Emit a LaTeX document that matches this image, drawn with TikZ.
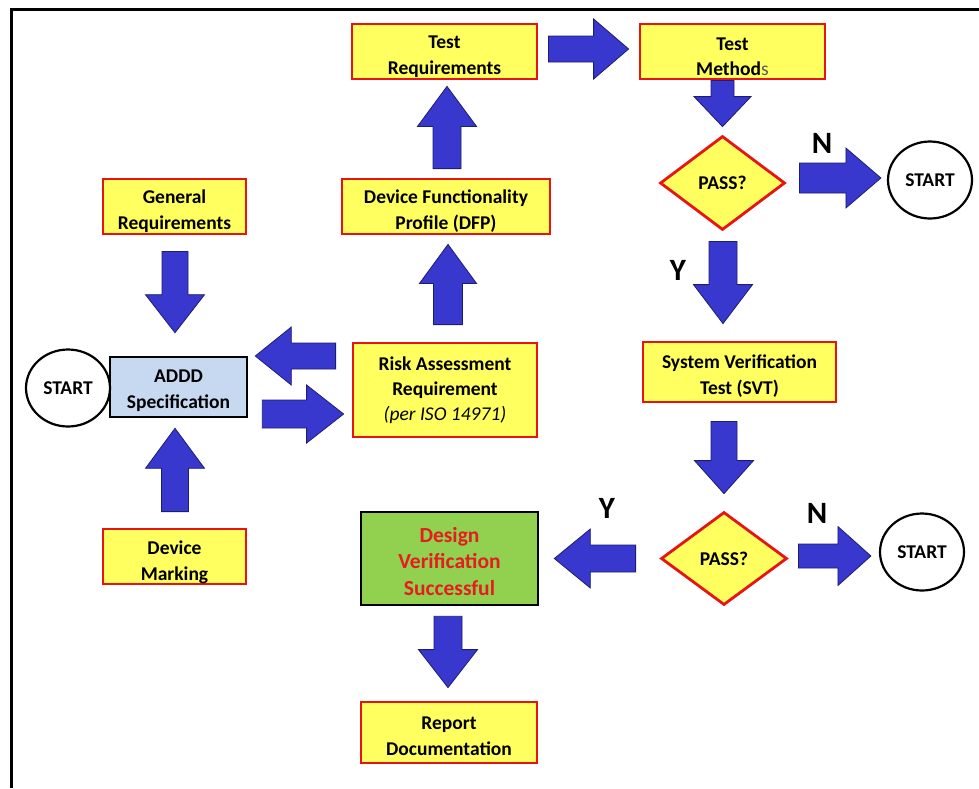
\documentclass[tikz,border=0pt]{standalone}
\usepackage{fontspec}
\setmainfont{Carlito}
\usetikzlibrary{shapes.geometric,calc}
\definecolor{boxyellow}{RGB}{255,255,96}
\definecolor{boxred}{RGB}{232,20,20}
\definecolor{arrowblue}{RGB}{56,56,206}
\definecolor{arrowedge}{RGB}{30,30,110}
\definecolor{specblue}{RGB}{198,217,241}
\definecolor{okgreen}{RGB}{146,208,80}
\definecolor{textred}{RGB}{228,30,30}
\newcommand\txtdrop[1]{\rule{0pt}{#1pt}}
\tikzset{
  txt/.style={font=\bfseries\fontsize{19.5}{25.5}\selectfont, align=center, text=black},
  ybox/.style={txt, draw=boxred, fill=boxyellow, line width=2.8pt, rectangle, inner sep=0pt},
  ydiam/.style={txt, draw=boxred, fill=boxyellow, line width=2.8pt, diamond, aspect=1.33, inner sep=0pt, minimum width=125pt, minimum height=94pt},
  startnode/.style={txt, draw=black, fill=white, line width=2.2pt, ellipse, inner sep=0pt, minimum width=84pt, minimum height=77pt},
  blockarrow/.style={fill=arrowblue, draw=arrowedge, line width=0.8pt, line join=miter},
  yn/.style={font=\bfseries\fontsize{31}{31}\selectfont, text=black, inner sep=0pt},
}
\newcommand\barrow[5]{%
  \coordinate (bA) at (#1); \coordinate (bB) at (#2);
  \coordinate (bH) at ($(bB)!#5pt!(bA)$);
  \path[blockarrow] ($(bA)!#3pt!90:(bB)$) -- ($(bH)!#3pt!90:(bB)$) -- ($(bH)!#4pt!90:(bB)$) -- (bB)
    -- ($(bH)!#4pt!-90:(bB)$) -- ($(bH)!#3pt!-90:(bB)$) -- ($(bA)!#3pt!-90:(bB)$) -- cycle;}
\begin{document}
\begin{tikzpicture}[x=1pt,y=-1pt]
\useasboundingbox (0,0) rectangle (979,788);
\fill[white] (0,0) rectangle (979,788);
% frame
\draw[line width=3pt] (11,788) -- (11,9) -- (979,9);

% nodes
\node[ybox, minimum width=185pt, minimum height=55pt] (tr) at (444.5,51.5) {\txtdrop{23}Test\\Requirements};
\node[ybox, minimum width=185pt, minimum height=55pt] (tm) at (732.5,51.5) {\txtdrop{23}Test\\Method{\mdseries\color{black!65}s}};
\node[ydiam] (p1) at (722.5,183) {PASS?};
\node[startnode] (s1) at (930,180) {START};
\node[ybox, minimum width=143pt, minimum height=55pt] (gr) at (174.5,206.5) {\txtdrop{23}General\\Requirements};
\node[ybox, minimum width=208pt, minimum height=55pt] (dfp) at (446,206.5) {\txtdrop{23}Device Functionality\\Profile (DFP)};
\node[txt, draw=black, fill=specblue, line width=2.6pt, inner sep=0pt, minimum width=137pt, minimum height=60pt] (addd) at (178.5,387) {\txtdrop{20}ADDD\\Specification};
\node[startnode] (s0) at (68,388) {START};
\node[ybox, minimum width=184pt, minimum height=94pt, font=\bfseries\fontsize{19.5}{25}\selectfont] (rar) at (445,390) {Risk Assessment\\Requirement\\{\mdseries\itshape (per ISO 14971)}};
\node[ybox, minimum width=143pt, minimum height=55pt] (dm) at (174.5,556.5) {\txtdrop{25}Device\\Marking};
\node[ybox, minimum width=193pt, minimum height=60pt] (svt) at (739.5,372) {\txtdrop{21.5}System Verification\\Test (SVT)};
\node[ydiam, minimum width=126pt, minimum height=93pt] (p2) at (724,558.5) {PASS?};
\node[startnode] (s2) at (922,552) {START};
\node[txt, draw=black, fill=okgreen, line width=2.6pt, inner sep=0pt, minimum width=177pt, minimum height=93pt, text=textred, font=\bfseries\fontsize{21.5}{26.5}\selectfont] (dv) at (449.5,558.5) {\txtdrop{21}Design\\Verification\\Successful};
\node[ybox, minimum width=176pt, minimum height=61pt] (rep) at (449,732.5) {\txtdrop{20}Report\\Documentation};

% Y / N labels
\node[yn] (n1) at (822,143) {N};
\node[yn] (y1) at (678,270) {Y};
\node[yn] (y2) at (607,508) {Y};
\node[yn] (n2) at (817,513) {N};

% block arrows
\barrow{$(tr.east)+(10,-2.5)$}{$(tm.west)+(-10,-2.5)$}{13}{30}{35}
\barrow{$(tm.south)+(-10,0)$}{$(p1.north)+(0,-8)$}{11.5}{28.5}{30}
\barrow{$(p1.east)+(13,-5)$}{$(s1.west)+(-6,-2)$}{15}{30}{35}
\barrow{$(dfp.north)+(1,-9)$}{$(tr.south)+(2.5,6)$}{14}{29.5}{40}
\barrow{$(rar.north)+(3,-17)$}{$(dfp.south)+(2,9)$}{14.5}{28.5}{39}
\barrow{$(gr.south)+(0.5,16)$}{$(addd.north)+(-3.5,-23)$}{13}{29.5}{38}
\barrow{$(dm.north)+(0.5,-16)$}{$(addd.south)+(-3.5,10)$}{13.5}{29.5}{40}
\barrow{$(rar.west)+(-16,-34)$}{$(addd.east)+(7,-31)$}{13}{29}{36}
\barrow{$(addd.east)+(14,27)$}{$(rar.west)+(-8,24)$}{14}{29}{37}
\barrow{$(p1.south)+(0.5,10)$}{$(svt.north)+(-16.5,-17)$}{14}{29.5}{39}
\barrow{$(svt.south)+(-15.5,18)$}{$(p2.north)+(0,-17)$}{13}{29.5}{33}
\barrow{$(p2.west)+(-24,0)$}{$(dv.east)+(15,0)$}{13.5}{29.5}{36}
\barrow{$(p2.east)+(10,-2.5)$}{$(s2.west)+(-8,4)$}{12}{29.5}{33}
\barrow{$(dv.south)+(-1.5,10)$}{$(rep.north)+(-1,-13)$}{14}{29.5}{38}
\end{tikzpicture}
\end{document}
